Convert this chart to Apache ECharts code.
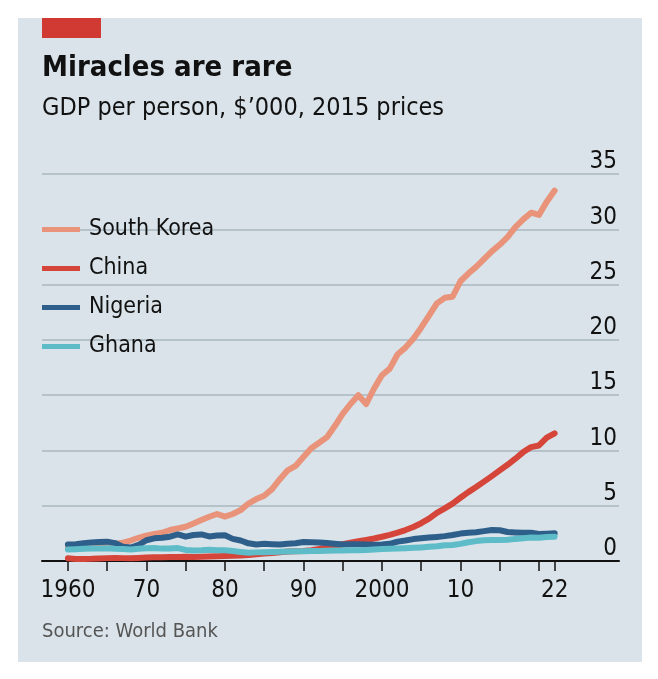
<!DOCTYPE html>
<html>
<head>
<meta charset="utf-8">
<script src="https://cdn.jsdelivr.net/npm/echarts@6/dist/echarts.min.js"></script>
<style>
html,body{margin:0;padding:0;background:#ffffff;}
#chart{width:658px;height:679px;}
</style>
</head>
<body>
<div id="chart"></div>
<script>
const years = [1960,1961,1962,1963,1964,1965,1966,1967,1968,1969,1970,1971,1972,1973,1974,1975,1976,1977,1978,1979,1980,1981,1982,1983,1984,1985,1986,1987,1988,1989,1990,1991,1992,1993,1994,1995,1996,1997,1998,1999,2000,2001,2002,2003,2004,2005,2006,2007,2008,2009,2010,2011,2012,2013,2014,2015,2016,2017,2018,2019,2020,2021,2022];
const southKorea = [1.15,1.18,1.20,1.28,1.35,1.40,1.55,1.66,1.85,2.10,2.30,2.45,2.55,2.80,2.95,3.10,3.40,3.70,4.00,4.25,4.02,4.25,4.60,5.20,5.60,5.90,6.50,7.40,8.20,8.60,9.40,10.20,10.70,11.20,12.20,13.30,14.20,15.00,14.20,15.60,16.80,17.40,18.70,19.30,20.10,21.10,22.20,23.30,23.80,23.90,25.30,26.00,26.60,27.30,28.00,28.60,29.30,30.20,30.90,31.50,31.30,32.50,33.50];
const china = [0.25,0.19,0.19,0.20,0.23,0.26,0.28,0.26,0.25,0.28,0.32,0.33,0.34,0.36,0.36,0.38,0.37,0.39,0.40,0.42,0.45,0.47,0.50,0.55,0.62,0.68,0.72,0.79,0.86,0.88,0.90,0.97,1.10,1.24,1.38,1.52,1.65,1.79,1.91,2.04,2.19,2.36,2.56,2.80,3.07,3.42,3.83,4.36,4.76,5.19,5.72,6.23,6.69,7.18,7.68,8.20,8.70,9.25,9.85,10.30,10.45,11.15,11.55];
const nigeria = [1.50,1.52,1.60,1.68,1.72,1.75,1.62,1.30,1.22,1.45,1.88,2.05,2.10,2.20,2.40,2.20,2.35,2.40,2.22,2.30,2.32,2.00,1.85,1.60,1.50,1.55,1.52,1.50,1.56,1.60,1.72,1.70,1.68,1.62,1.56,1.50,1.52,1.52,1.50,1.47,1.50,1.55,1.75,1.85,1.98,2.05,2.12,2.18,2.25,2.35,2.48,2.55,2.60,2.70,2.80,2.78,2.62,2.58,2.55,2.55,2.45,2.47,2.50];
const ghana = [1.05,1.07,1.10,1.12,1.13,1.15,1.10,1.08,1.05,1.10,1.15,1.18,1.12,1.13,1.17,1.00,0.95,0.97,1.02,0.98,0.97,0.90,0.82,0.75,0.78,0.80,0.82,0.83,0.86,0.88,0.88,0.90,0.91,0.93,0.94,0.95,0.97,0.98,1.00,1.05,1.08,1.10,1.12,1.15,1.19,1.23,1.28,1.33,1.42,1.45,1.55,1.70,1.80,1.87,1.89,1.90,1.92,2.00,2.06,2.12,2.10,2.17,2.20];

const seriesNames = ['South Korea','China','Nigeria','Ghana'];
const xLabelValues = [1960,1970,1980,1990,2000,2010,2022];
const xLabelTexts = ['1960','70','80','90','2000','10','22'];
const xTickValues = [1960,1965,1970,1975,1980,1985,1990,1995,2000,2005,2010,2015,2020,2022];
const yTicks = [0,5,10,15,20,25,30,35];

const FONT = "'DejaVu Sans Condensed','Liberation Sans',sans-serif";
const colors = ['#e8937a','#d5453a','#2d5f8a','#5dbcc8'];
const seriesData = [southKorea, china, nigeria, ghana];

function pairs(vals){ return years.map((y,i)=>[y, vals[i]]); }

const chart = echarts.init(document.getElementById('chart'), null, {renderer:'canvas'});
chart.setOption({
  animation:false,
  backgroundColor:'#ffffff',
  textStyle:{fontFamily:FONT},
  graphic:[
    {type:'rect', z:-10, silent:true, shape:{x:18,y:18,width:624,height:644}, style:{fill:'#d9e3e9'}},
    {type:'rect', shape:{x:42,y:18,width:59,height:20}, style:{fill:'#d03a33'}},
    {type:'text', left:42, top:54, style:{text:'Miracles are rare', font:"bold 29px "+FONT, fill:'#111111'}},
    {type:'text', left:42, top:96, style:{text:'GDP per person, $\u2019000, 2015 prices', font:"25px "+FONT, fill:'#111111'}},
    {type:'text', left:42, top:622, style:{text:'Source: World Bank', font:"20px "+FONT, fill:'#555555'}}
  ],
  legend:{
    orient:'vertical', left:37, top:210,
    icon:'rect', itemWidth:38, itemHeight:5, itemGap:10,
    data:seriesNames,
    textStyle:{fontFamily:FONT, fontSize:23, color:'#111111', lineHeight:29, padding:[0,0,0,4]},
    selectedMode:false
  },
  grid:{left:42, right:39, top:174, bottom:118},
  xAxis:{
    type:'value', min:1956.7, max:2030.2,
    splitLine:{show:false},
    axisLine:{show:true, onZero:false, lineStyle:{color:'#111111', width:2}},
    axisTick:{show:true, customValues:xTickValues, length:10, lineStyle:{color:'#111111', width:1.5}},
    axisLabel:{customValues:xLabelValues, margin:18, fontFamily:FONT, fontSize:24, color:'#111111',
      formatter:function(v){ const i = xLabelValues.indexOf(v); return i>=0 ? xLabelTexts[i] : ''; }}
  },
  yAxis:{
    type:'value', position:'right', min:0, max:35, interval:5,
    axisLine:{show:false}, axisTick:{show:false},
    splitLine:{show:true, lineStyle:{color:'#a9b7bf', width:1.5}},
    axisLabel:{inside:true, margin:2, verticalAlign:'bottom', fontFamily:FONT, fontSize:24, color:'#111111',
      formatter:function(v){ return yTicks.indexOf(v)>=0 ? String(v) : ''; }}
  },
  series: seriesNames.map((name,k)=>({
    name:name, type:'line', data:pairs(seriesData[k]), showSymbol:false, symbol:'none',
    lineStyle:{color:colors[k], width:6, cap:'round', join:'round'},
    itemStyle:{color:colors[k]}, z:2+k
  }))
});
</script>
</body>
</html>
